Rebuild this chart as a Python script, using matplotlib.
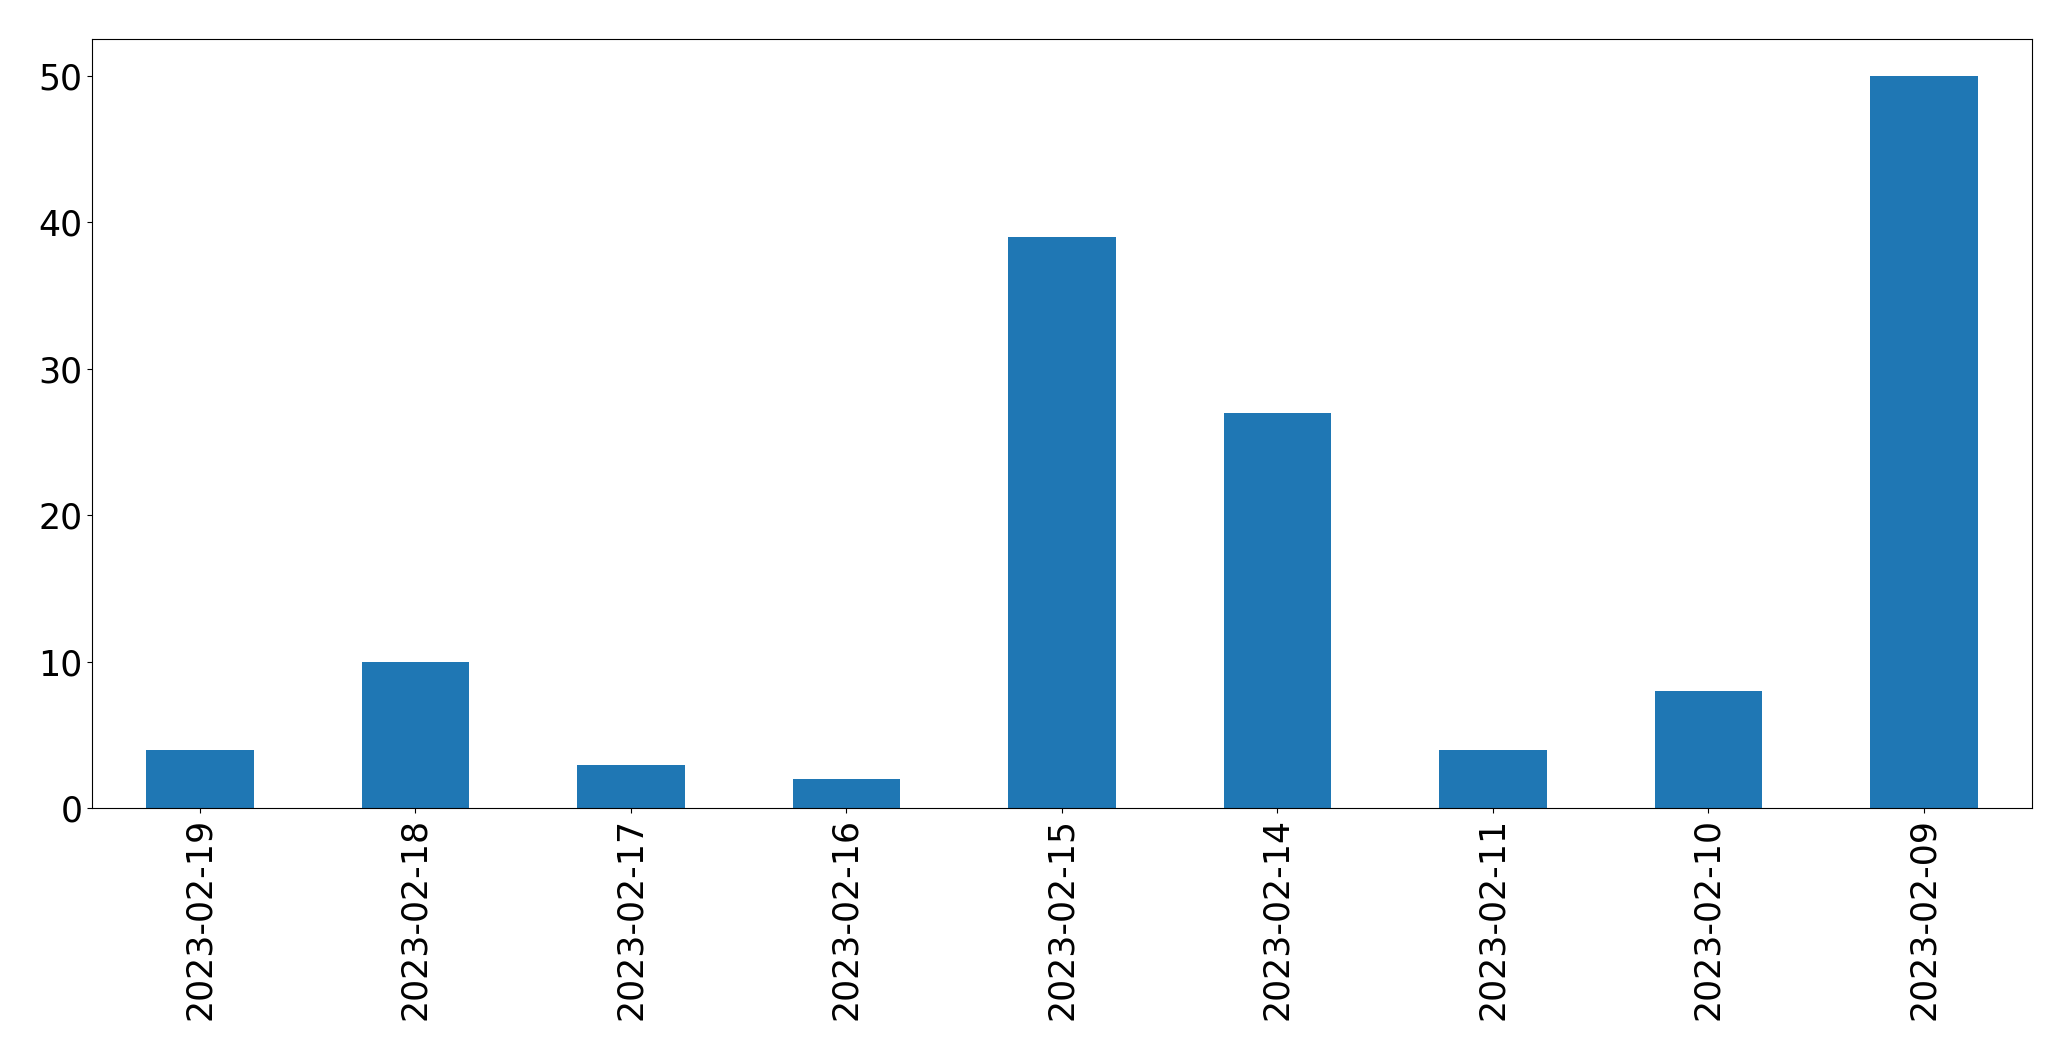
import matplotlib
matplotlib.use("Agg")
import matplotlib.pyplot as plt
import pandas as pd

dates = ["2023-02-19", "2023-02-18", "2023-02-17", "2023-02-16", "2023-02-15",
         "2023-02-14", "2023-02-11", "2023-02-10", "2023-02-09"]
counts = [4, 10, 3, 2, 39, 27, 4, 8, 50]

series = pd.Series(counts, index=dates)

fig = plt.figure(figsize=(20.71, 10.61), dpi=100)
ax = fig.add_axes([0.0445, 0.238, 0.9365, 0.725])
series.plot(kind="bar", ax=ax, color="#1f77b4")
ax.tick_params(axis="both", labelsize=25)

fig.savefig("out.png", dpi=100)
